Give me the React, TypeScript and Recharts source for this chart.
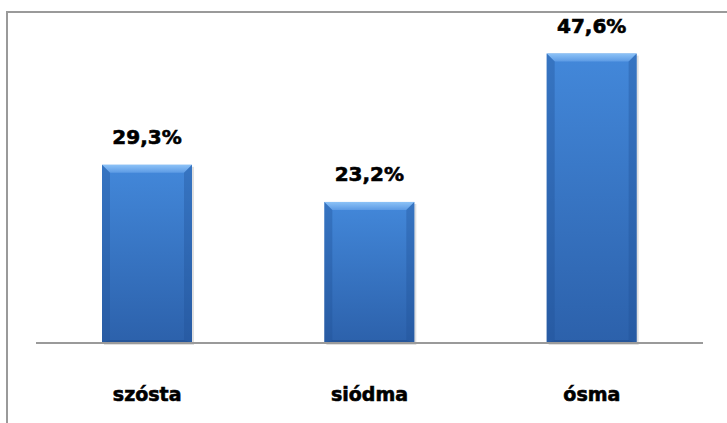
import React from 'react';
import { BarChart, Bar, XAxis, YAxis, LabelList } from 'recharts';

const categories = ['szósta', 'siódma', 'ósma'];
const shares = [29.3, 23.2, 47.6];

const data = categories.map((name, i) => ({ name, value: shares[i] }));

const FONT = '"DejaVu Sans", sans-serif';

// bevelled bar, roughly like the old office "glass" style
const BevelBar = (props: any) => {
    const { x, y, width, height, index } = props;
    if (!height || height <= 0) return null;
    const b = 8;
    const id = `g-${index}`;
    return (
        <g>
            <defs>
                <linearGradient id={id} x1="0" y1="0" x2="0" y2="1">
                    <stop offset="0%" stopColor="#4388da" />
                    <stop offset="100%" stopColor="#2c61ab" />
                </linearGradient>
                <linearGradient id={`${id}-top`} x1="0" y1="0" x2="0" y2="1">
                    <stop offset="0%" stopColor="#8cc2f7" />
                    <stop offset="100%" stopColor="#5c9ae4" />
                </linearGradient>
            </defs>
            <rect x={x + 2} y={y + 2} width={width} height={height} fill="#000" opacity={0.12} />
            <rect x={x} y={y} width={width} height={height} fill={`url(#${id})`} />
            <polygon
                points={`${x},${y} ${x + width},${y} ${x + width - b},${y + b} ${x + b},${y + b}`}
                fill={`url(#${id}-top)`}
            />
            <polygon
                points={`${x},${y} ${x + b},${y + b} ${x + b},${y + height - 3} ${x},${y + height}`}
                fill="#1f4f94"
                opacity={0.35}
            />
            <polygon
                points={`${x + width},${y} ${x + width - b},${y + b} ${x + width - b},${y + height - 3} ${x + width},${y + height}`}
                fill="#1f4f94"
                opacity={0.35}
            />
            <polygon
                points={`${x},${y + height} ${x + b},${y + height - 3} ${x + width - b},${y + height - 3} ${x + width},${y + height}`}
                fill="#1d4a8a"
                opacity={0.5}
            />
        </g>
    );
};

const ValueLabel = (props: any) => {
    const { x, y, width, value } = props;
    return (
        <text
            x={x + width / 2}
            y={y - 21}
            textAnchor="middle"
            fontFamily={FONT}
            fontWeight="bold"
            fontSize={20}
            fill="#000"
            stroke="#000"
            strokeWidth={0.6}
        >
            {String(value).replace('.', ',') + '%'}
        </text>
    );
};

const CategoryTick = (props: any) => {
    const { x, y, payload } = props;
    return (
        <text
            x={x}
            y={y + 50}
            textAnchor="middle"
            fontFamily={FONT}
            fontWeight="bold"
            fontSize={19}
            fill="#000"
            stroke="#000"
            strokeWidth={0.6}
        >
            {payload.value}
        </text>
    );
};

export default function App() {
    return (
        <div style={{ position: 'fixed', left: 0, top: 0, width: 727, height: 423, overflow: 'hidden', background: '#fff' }}>
            <div
                style={{
                    position: 'absolute',
                    left: 6,
                    top: 11,
                    width: 740,
                    height: 430,
                    borderLeft: '2px solid #9a9a9a',
                    borderTop: '2px solid #9a9a9a',
                }}
            />
            <div style={{ position: 'absolute', left: 0, top: 0 }}>
                <BarChart
                    width={727}
                    height={423}
                    data={data}
                    margin={{ top: 39, right: 24, bottom: 0, left: 36 }}
                >
                    <XAxis
                        dataKey="name"
                        axisLine={{ stroke: '#9a9a9a', strokeWidth: 2 }}
                        tickLine={false}
                        tick={<CategoryTick />}
                        interval={0}
                        height={80}
                    />
                    <YAxis hide domain={[0, 50]} width={0} />
                    <Bar dataKey="value" barSize={90} shape={<BevelBar />} isAnimationActive={false}>
                        <LabelList dataKey="value" content={<ValueLabel />} />
                    </Bar>
                </BarChart>
            </div>
        </div>
    );
}
